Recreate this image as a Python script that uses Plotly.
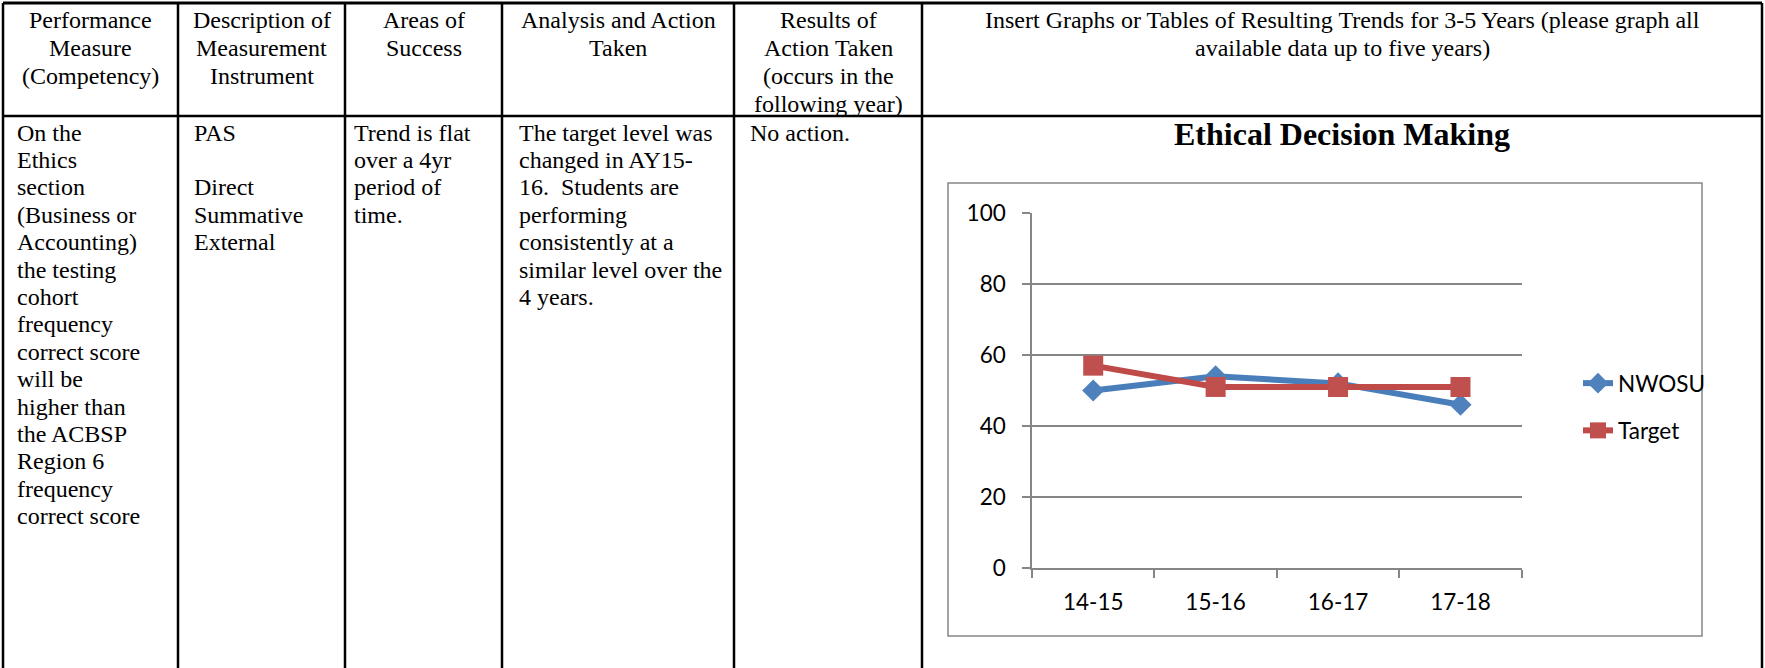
import plotly.graph_objects as go

W, H = 1765, 668

categories = ["14-15", "15-16", "16-17", "17-18"]
nwosu = [50, 54, 52, 46]
target = [57, 51, 51, 51]
y_ticks = [0, 20, 40, 60, 80, 100]

chart_title = "Ethical Decision Making"

header_cells = [
    ["Performance", "Measure", "(Competency)"],
    ["Description of", "Measurement", "Instrument"],
    ["Areas of", "Success"],
    ["Analysis and Action", "Taken"],
    ["Results of", "Action Taken", "(occurs in the", "following year)"],
    ["Insert Graphs or Tables of Resulting Trends for 3-5 Years (please graph all",
     "available data up to five years)"],
]

body_cells = [
    ["On the", "Ethics", "section", "(Business or", "Accounting)", "the testing",
     "cohort", "frequency", "correct score", "will be", "higher than", "the ACBSP",
     "Region 6", "frequency", "correct score"],
    ["PAS", "", "Direct", "Summative", "External"],
    ["Trend is flat", "over a 4yr", "period of", "time."],
    ["The target level was", "changed in AY15-", "16.  Students are", "performing",
     "consistently at a", "similar level over the", "4 years."],
    ["No action."],
]

# table geometry in pixels
col_x = [3, 178, 345, 502, 734, 922, 1762]
table_top = 3
header_bottom = 116
body_left = [15, 192, 352, 517, 748]
head_y0, head_step = 20.4, 27.7
body_y0, body_step = 132.6, 27.4
serif = "Liberation Serif"
sans = "Lato"
grey = "#868686"


def px(x):
    return x / W


def py(y):
    return 1 - y / H


fig = go.Figure()

fig.add_trace(go.Scatter(
    x=categories, y=nwosu, name="NWOSU", mode="lines+markers", legendgroup="a",
    line=dict(color="#4A7EBB", width=6),
    marker=dict(symbol="diamond", size=17, color="#4F81BD"),
))
fig.add_trace(go.Scatter(
    x=categories, y=target, name="Target", mode="lines+markers", legendgroup="b",
    line=dict(color="#BE4B48", width=6),
    marker=dict(symbol="square", size=20, color="#C0504D"),
))

# table borders
shapes = [
    dict(type="line", xref="paper", yref="paper", x0=px(col_x[0]), x1=px(col_x[-1]),
         y0=py(table_top), y1=py(table_top), line=dict(color="black", width=3)),
    dict(type="line", xref="paper", yref="paper", x0=px(col_x[0]), x1=px(col_x[-1]),
         y0=py(header_bottom), y1=py(header_bottom), line=dict(color="black", width=2.5)),
]
for cx in col_x:
    shapes.append(dict(type="line", xref="paper", yref="paper", x0=px(cx), x1=px(cx),
                       y0=py(table_top), y1=0, line=dict(color="black", width=2.5)))
# chart area frame
shapes.append(dict(type="rect", xref="paper", yref="paper", x0=px(948), x1=px(1702),
                   y0=py(636), y1=py(183), line=dict(color=grey, width=1.5)))

annotations = []
for i, lines in enumerate(header_cells):
    cx = (col_x[i] + col_x[i + 1]) / 2
    for k, t in enumerate(lines):
        annotations.append(dict(
            text=t, x=px(cx), y=py(head_y0 + k * head_step), xref="paper", yref="paper",
            xanchor="center", yanchor="middle", showarrow=False,
            font=dict(family=serif, size=24, color="black")))

for i, lines in enumerate(body_cells):
    for k, t in enumerate(lines):
        if not t:
            continue
        annotations.append(dict(
            text=t, x=px(body_left[i]), y=py(body_y0 + k * body_step), xref="paper", yref="paper",
            xanchor="left", yanchor="middle", showarrow=False,
            font=dict(family=serif, size=24, color="black")))

annotations.append(dict(
    text="<b>" + chart_title + "</b>", x=px(1342), y=py(134.5), xref="paper", yref="paper",
    xanchor="center", yanchor="middle", showarrow=False,
    font=dict(family=serif, size=32, color="black")))

fig.update_layout(
    width=W, height=H, autosize=False,
    margin=dict(l=0, r=0, t=0, b=0, autoexpand=False),
    paper_bgcolor="white", plot_bgcolor="white",
    shapes=shapes, annotations=annotations,
    xaxis=dict(
        domain=[px(1032), px(1521.7)], type="category", range=[-0.5, 3.5],
        automargin=False,
        showline=True, linecolor=grey, linewidth=1.5, showgrid=False,
        ticks="outside", tickson="boundaries", ticklen=8, tickwidth=1.5, tickcolor=grey,
        ticklabelstandoff=13,
        tickfont=dict(family=sans, size=22.5, color="black"), fixedrange=True,
    ),
    yaxis=dict(
        domain=[py(568), py(213)], range=[0, 100], tickvals=y_ticks,
        automargin=False,
        showline=True, linecolor=grey, linewidth=1.5,
        showgrid=True, gridcolor=grey, gridwidth=1.5, zeroline=False,
        ticks="outside", ticklen=8, tickwidth=1.5, tickcolor=grey,
        ticklabelstandoff=12,
        tickfont=dict(family=sans, size=22.5, color="black"), fixedrange=True,
    ),
    showlegend=True,
    legend=dict(
        x=px(1578), y=py(362), xanchor="left", yanchor="top",
        font=dict(family=sans, size=22.5, color="black"),
        bgcolor="rgba(0,0,0,0)", traceorder="grouped", tracegroupgap=15,
    ),
)

page_fix = (
    "document.documentElement.style.margin='0';"
    "document.documentElement.style.padding='0';"
    "document.body.style.margin='0';"
    "document.body.style.padding='0';"
    "document.body.style.overflow='hidden';"
)
fig.write_html("out.html", config={"displayModeBar": False}, post_script=page_fix)
